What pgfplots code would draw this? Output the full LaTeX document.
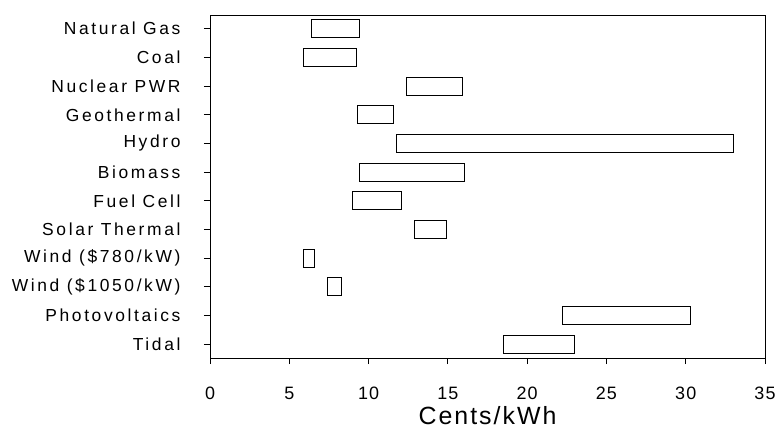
\documentclass[border=0pt]{standalone}
\usepackage{pgfplots}
\pgfplotsset{compat=1.18}
\usepackage{pgfplotstable}
\usepackage{fontspec}
\setmainfont{Liberation Sans}
\newfontfamily\lblfont[LetterSpace=15]{Liberation Sans}
\newfontfamily\tickfont[LetterSpace=6]{Liberation Sans}
\newfontfamily\xlblfont[LetterSpace=8]{Liberation Sans}

\pgfplotstableread{
row start end
1 6.4 9.4
2 5.9 9.25
3 12.4 15.9
4 9.3 11.6
5 11.75 33.0
6 9.4 16.05
7 9.0 12.1
8 12.9 14.9
9 5.9 6.6
10 7.4 8.3
11 22.2 30.3
12 18.5 23.0
}\data

\begin{document}
\begin{tikzpicture}
\begin{axis}[name=ax, scale only axis, width=555bp, height=343bp,
  xmin=0, xmax=35, ymin=0.52, ymax=12.48, y dir=reverse,
  xtick={0,5,...,35}, ytick={1,...,12},
  yticklabels={Natural Gas, Coal, Nuclear PWR, Geothermal, Hydro, Biomass, Fuel Cell, Solar Thermal, Wind (\$780/kW), Wind (\$1050/kW), Photovoltaics, Tidal},
  xtick pos=bottom, ytick pos=left, tick align=outside,
  major tick length=6bp,
  axis line style={line width=0.9pt},
  tick style={line width=0.8pt, black},
  /pgf/number format/assume math mode=true,
  xbar stacked, bar width=0.63,
  yticklabel style={font=\lblfont\fontsize{17.5}{19}\selectfont, xshift=-20bp},
  xticklabel style={font=\tickfont\fontsize{18}{20}\selectfont, anchor=base, yshift=-35bp},
  xlabel={Cents/kWh},
  xlabel style={font=\xlblfont\fontsize{25}{28}\selectfont, at={(axis description cs:0.5,0)}, anchor=base, yshift=-66bp},
]
\addplot[draw=none, fill=none] table[x=start, y=row]{\data};
\addplot[draw=black, fill=white, line width=0.9pt] table[x expr=\thisrow{end}-\thisrow{start}, y=row]{\data};
\end{axis}
\pgfresetboundingbox
\path ([xshift=-210bp,yshift=-81bp]ax.south west) rectangle ([xshift=16bp,yshift=15bp]ax.north east);
\end{tikzpicture}
\end{document}
